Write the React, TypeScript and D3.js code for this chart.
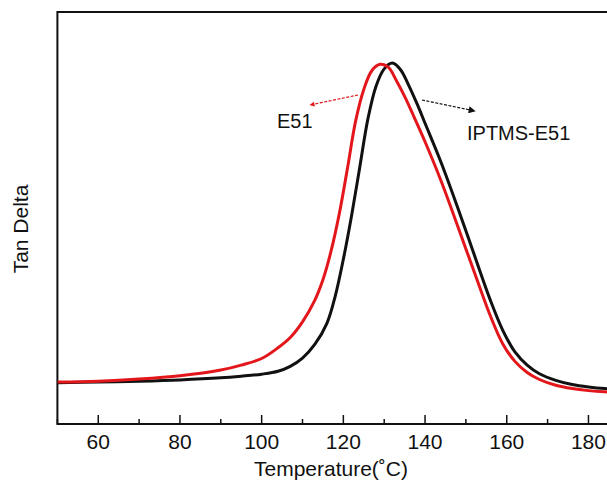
import React from "react";
import * as d3 from "d3";

const temperatureE51 = [50, 60, 70, 80, 90, 95, 100, 104, 107, 110, 113, 115, 117, 119, 121, 123, 125, 127, 129, 131, 133, 135, 137, 140, 144, 148, 152, 156, 159, 162, 165, 168, 172, 176, 180, 184, 188];
const tanDeltaE51 = [0.102, 0.104, 0.109, 0.117, 0.131, 0.143, 0.159, 0.185, 0.210, 0.248, 0.300, 0.350, 0.420, 0.510, 0.620, 0.735, 0.812, 0.858, 0.873, 0.866, 0.833, 0.795, 0.752, 0.685, 0.588, 0.480, 0.370, 0.262, 0.195, 0.152, 0.125, 0.108, 0.094, 0.086, 0.081, 0.078, 0.077];

const temperatureIPTMS = [50, 60, 70, 80, 90, 95, 100, 104, 107, 110, 113, 116, 118, 120, 122, 124, 126, 128, 130, 132, 134, 136, 138, 140, 144, 148, 152, 156, 159, 162, 165, 168, 172, 176, 180, 184, 188];
const tanDeltaIPTMS = [0.100, 0.102, 0.104, 0.107, 0.112, 0.116, 0.121, 0.128, 0.140, 0.160, 0.193, 0.245, 0.310, 0.400, 0.505, 0.622, 0.740, 0.820, 0.862, 0.876, 0.860, 0.822, 0.778, 0.730, 0.633, 0.525, 0.412, 0.300, 0.228, 0.175, 0.143, 0.122, 0.106, 0.096, 0.090, 0.086, 0.084];

const majorTicks = [60, 80, 100, 120, 140, 160, 180];
const minorTicks = [50, 70, 90, 110, 130, 150, 170, 190];

const seriesNames = ["E51", "IPTMS-E51"];
const seriesColors = ["#e3171b", "#111111"];

const W = 607;
const H = 482;
const FONT = "'Liberation Sans', Arial, sans-serif";

export default function App() {
  const x = d3.scaleLinear().domain([50, 190]).range([57.4, 57.4 + 7 * 81.7]);
  const y = d3.scaleLinear().domain([0, 1]).range([424, 12]);

  const line = d3
    .line<[number, number]>()
    .x((d) => x(d[0]))
    .y((d) => y(d[1]))
    .curve(d3.curveCatmullRom.alpha(0.5));

  const e51 = temperatureE51.map((t, i) => [t, tanDeltaE51[i]] as [number, number]);
  const iptms = temperatureIPTMS.map((t, i) => [t, tanDeltaIPTMS[i]] as [number, number]);

  const left = x(50);
  const right = x(190);
  const top = y(1);
  const bottom = y(0);

  return (
    <svg
      width={W}
      height={H}
      style={{ position: "absolute", left: 0, top: 0, background: "#fff" }}
      fontFamily={FONT}
    >
      <defs>
        <marker id="arrRed" viewBox="0 0 10 10" refX="9" refY="5" markerWidth="7" markerHeight="5" orient="auto-start-reverse" markerUnits="userSpaceOnUse">
          <path d="M0,0 L10,5 L0,10 z" fill={seriesColors[0]} />
        </marker>
        <marker id="arrBlack" viewBox="0 0 10 10" refX="9" refY="5" markerWidth="11" markerHeight="7" orient="auto-start-reverse" markerUnits="userSpaceOnUse">
          <path d="M0,0 L10,5 L0,10 z" fill={seriesColors[1]} />
        </marker>
        <clipPath id="plotClip">
          <rect x={left} y={top} width={right - left} height={bottom - top} />
        </clipPath>
      </defs>

      <rect x={left} y={top} width={right - left} height={bottom - top} fill="none" stroke="#111" strokeWidth={2} />

      {majorTicks.map((t) => (
        <g key={"M" + t}>
          <line x1={x(t)} x2={x(t)} y1={bottom} y2={bottom - 9} stroke="#111" strokeWidth={1.5} />
          <text x={x(t)} y={449} textAnchor="middle" fontSize={21} fill="#111">
            {t}
          </text>
        </g>
      ))}
      {minorTicks.map((t) => (
        <line key={"m" + t} x1={x(t)} x2={x(t)} y1={bottom} y2={bottom - 5} stroke="#111" strokeWidth={1.5} />
      ))}

      <g clipPath="url(#plotClip)">
        <path d={line(iptms) || ""} fill="none" stroke={seriesColors[1]} strokeWidth={3} strokeLinejoin="round" />
        <path d={line(e51) || ""} fill="none" stroke={seriesColors[0]} strokeWidth={3} strokeLinejoin="round" />
      </g>

      <line x1={358} y1={95} x2={310} y2={105} stroke={seriesColors[0]} strokeWidth={1.2} strokeDasharray="3,1.5" markerEnd="url(#arrRed)" />
      <line x1={422} y1={100} x2={475} y2={111} stroke={seriesColors[1]} strokeWidth={1.2} strokeDasharray="3,1.5" markerEnd="url(#arrBlack)" />
      <text x={277} y={128} fontSize={20} fill="#111">
        {seriesNames[0]}
      </text>
      <text x={467} y={140} fontSize={20} fill="#111">
        {seriesNames[1]}
      </text>

      <text x={331} y={476} textAnchor="middle" fontSize={21} fill="#111">
        Temperature(˚C)
      </text>
      <text transform={`translate(28,229) rotate(-90)`} textAnchor="middle" fontSize={21} fill="#111">
        Tan Delta
      </text>
    </svg>
  );
}
